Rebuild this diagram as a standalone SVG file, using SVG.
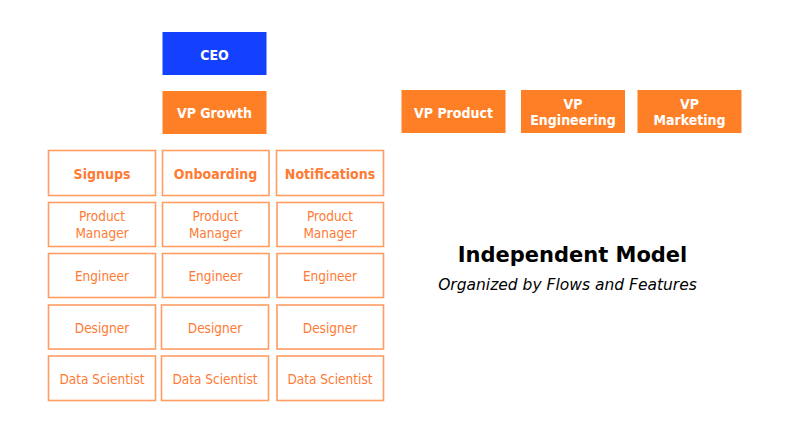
<svg xmlns="http://www.w3.org/2000/svg" width="800" height="433" viewBox="0 0 800 433">
  <style>
    text { font-family: "DejaVu Sans Condensed", "DejaVu Sans", Verdana, sans-serif; text-anchor: middle; }
    .exec { fill: #FF7F27; }
    .ceo { fill: #1440FF; }
    .exec-label { fill: #FFFFFF; font-weight: bold; font-size: 14px; }
    .cell { fill: #FFFFFF; stroke: #FF9D63; stroke-width: 1.6; }
    .head { fill: #FF7A33; font-weight: bold; font-size: 14px; }
    .role { fill: #FF7A33; font-size: 13.5px; }
    .title { font-family: "DejaVu Sans", Verdana, sans-serif; fill: #000000; font-weight: bold; font-size: 21px; }
    .subtitle { font-family: "DejaVu Sans", Verdana, sans-serif; fill: #000000; font-style: italic; font-size: 15.5px; }
  </style>
  <rect width="800" height="433" fill="#FFFFFF"/>

  <!-- leadership -->
  <g id="ceo">
    <rect class="ceo" x="162.5" y="32" width="104" height="43"/>
    <text class="exec-label" x="214.5" y="59.5">CEO</text>
  </g>
  <g id="vp-growth">
    <rect class="exec" x="162.5" y="91" width="104" height="43"/>
    <text class="exec-label" x="214.5" y="118">VP Growth</text>
  </g>
  <g id="vp-product">
    <rect class="exec" x="401.5" y="90" width="104" height="43"/>
    <text class="exec-label" x="453.5" y="117.5">VP Product</text>
  </g>
  <g id="vp-engineering">
    <rect class="exec" x="521" y="90" width="104" height="43"/>
    <text class="exec-label" x="573" y="108.5">VP</text>
    <text class="exec-label" x="573" y="125">Engineering</text>
  </g>
  <g id="vp-marketing">
    <rect class="exec" x="637.5" y="90" width="104" height="43"/>
    <text class="exec-label" x="689.5" y="108.5">VP</text>
    <text class="exec-label" x="689.5" y="125">Marketing</text>
  </g>

  <!-- flow teams: column 1 -->
  <g id="signups">
    <rect class="cell" x="48.5" y="150.5" width="107" height="45"/>
    <text class="head" x="102" y="178.5">Signups</text>
  </g>
  <g id="signups-pm">
    <rect class="cell" x="48.5" y="202.5" width="107" height="44"/>
    <text class="role" x="102" y="221">Product</text>
    <text class="role" x="102" y="238">Manager</text>
  </g>
  <g id="signups-engineer">
    <rect class="cell" x="48.5" y="253.5" width="107" height="44"/>
    <text class="role" x="102" y="280.5">Engineer</text>
  </g>
  <g id="signups-designer">
    <rect class="cell" x="48.5" y="305" width="107" height="44"/>
    <text class="role" x="102" y="332.5">Designer</text>
  </g>
  <g id="signups-data-scientist">
    <rect class="cell" x="48.5" y="356" width="107" height="44.5"/>
    <text class="role" x="102" y="383.5">Data Scientist</text>
  </g>

  <!-- column 2 -->
  <g id="onboarding">
    <rect class="cell" x="162.5" y="150.5" width="106.5" height="45"/>
    <text class="head" x="215.5" y="178.5">Onboarding</text>
  </g>
  <g id="onboarding-pm">
    <rect class="cell" x="162.5" y="202.5" width="106.5" height="44"/>
    <text class="role" x="215.5" y="221">Product</text>
    <text class="role" x="215.5" y="238">Manager</text>
  </g>
  <g id="onboarding-engineer">
    <rect class="cell" x="162.5" y="253.5" width="106.5" height="44"/>
    <text class="role" x="215.5" y="280.5">Engineer</text>
  </g>
  <g id="onboarding-designer">
    <rect class="cell" x="161.5" y="305" width="107" height="44"/>
    <text class="role" x="215" y="332.5">Designer</text>
  </g>
  <g id="onboarding-data-scientist">
    <rect class="cell" x="161.5" y="356" width="107" height="44.5"/>
    <text class="role" x="215" y="383.5">Data Scientist</text>
  </g>

  <!-- column 3 -->
  <g id="notifications">
    <rect class="cell" x="276.5" y="150.5" width="107" height="45"/>
    <text class="head" x="330" y="178.5">Notifications</text>
  </g>
  <g id="notifications-pm">
    <rect class="cell" x="277" y="202.5" width="106.5" height="44"/>
    <text class="role" x="330" y="221">Product</text>
    <text class="role" x="330" y="238">Manager</text>
  </g>
  <g id="notifications-engineer">
    <rect class="cell" x="277" y="253.5" width="106.5" height="44"/>
    <text class="role" x="330" y="280.5">Engineer</text>
  </g>
  <g id="notifications-designer">
    <rect class="cell" x="277" y="305" width="106.5" height="44"/>
    <text class="role" x="330" y="332.5">Designer</text>
  </g>
  <g id="notifications-data-scientist">
    <rect class="cell" x="277" y="356" width="106.5" height="44.5"/>
    <text class="role" x="330" y="383.5">Data Scientist</text>
  </g>

  <!-- caption -->
  <g id="caption">
    <text class="title" x="572.5" y="262">Independent Model</text>
    <text class="subtitle" x="567.5" y="290">Organized by Flows and Features</text>
  </g>
</svg>
